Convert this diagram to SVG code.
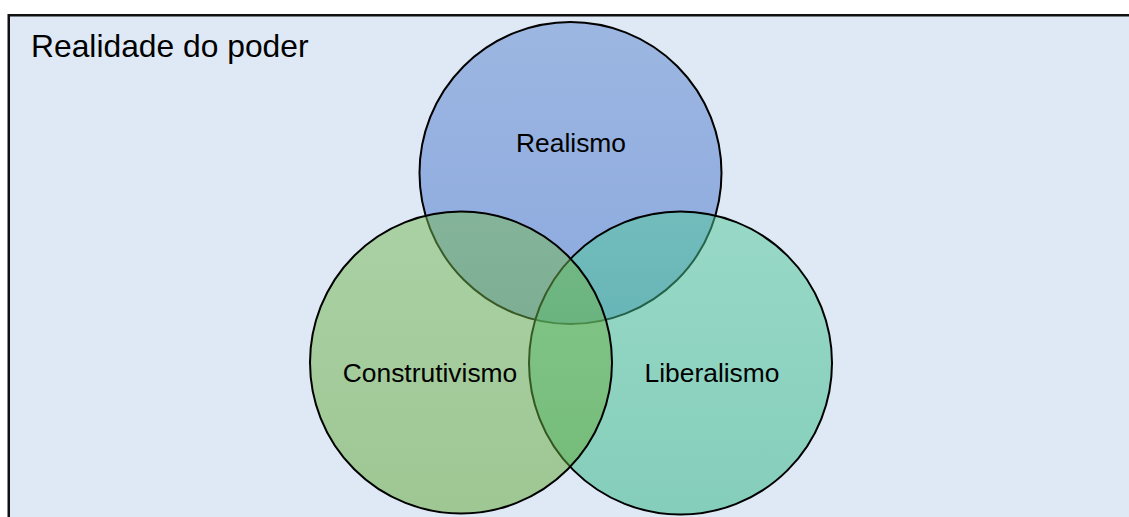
<svg xmlns="http://www.w3.org/2000/svg" width="1129" height="517" viewBox="0 0 1129 517">
  <defs>
    <linearGradient id="gR" x1="0" y1="0" x2="0" y2="1">
      <stop offset="0" stop-color="#5a84cc"/>
      <stop offset="1" stop-color="#3c6bcb"/>
    </linearGradient>
    <linearGradient id="gC" x1="0" y1="0" x2="0" y2="1">
      <stop offset="0" stop-color="#76b953"/>
      <stop offset="1" stop-color="#60a533"/>
    </linearGradient>
    <linearGradient id="gL" x1="0" y1="0" x2="0" y2="1">
      <stop offset="0" stop-color="#52c997"/>
      <stop offset="1" stop-color="#2cb381"/>
    </linearGradient>
  </defs>
  <style>
    .frame { fill: #dee9f5; stroke: #111111; stroke-width: 2.5; }
    .circ { stroke: #000000; stroke-width: 2; fill-opacity: 0.5; }
    .lbl { font-family: "Liberation Sans", Arial, sans-serif; font-size: 26.4px; fill: #000000; text-anchor: middle; }
    .title { font-family: "Liberation Sans", Arial, sans-serif; font-size: 31.8px; fill: #000000; }
  </style>
  <rect width="1129" height="517" fill="#ffffff"/>
  <g id="frame">
    <rect class="frame" x="8.75" y="15.25" width="1130" height="520"/>
    <text class="title" x="31" y="57">Realidade do poder</text>
  </g>
  <g id="realismo">
    <circle class="circ" cx="570.5" cy="173" r="151" fill="url(#gR)"/>
    <text class="lbl" x="571" y="152">Realismo</text>
  </g>
  <g id="liberalismo">
    <circle class="circ" cx="680.5" cy="363" r="151.5" fill="url(#gL)"/>
    <text class="lbl" x="712" y="381.5">Liberalismo</text>
  </g>
  <g id="construtivismo">
    <circle class="circ" cx="461" cy="362.5" r="151" fill="url(#gC)"/>
    <text class="lbl" x="430" y="381.5">Construtivismo</text>
  </g>
  <g id="connectors"></g>
</svg>
